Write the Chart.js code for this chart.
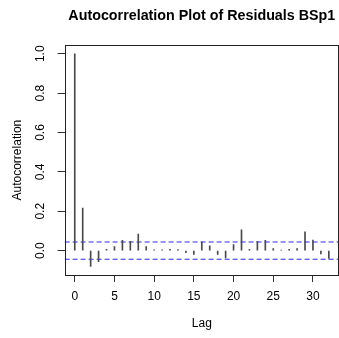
<!DOCTYPE html>
<html>
<head>
<meta charset="utf-8">
<script src="https://cdn.jsdelivr.net/npm/chart.js@4"></script>
<style>
  html, body { margin: 0; padding: 0; background: #ffffff; }
  #wrap { width: 339px; height: 338px; }
</style>
</head>
<body>
<div id="wrap"><canvas id="acfChart" width="339" height="338"></canvas></div>
<script>
// ACF values
const lags = [0, 1, 2, 3, 4, 5, 6, 7, 8, 9, 10, 11, 12, 13, 14, 15, 16,
              17, 18, 19, 20, 21, 22, 23, 24, 25, 26, 27, 28, 29, 30, 31, 32];
const acfValues = [1.0, 0.216, -0.081, -0.056, 0.006, 0.02, 0.052, 0.047, 0.084, 0.02, 0.004,
                   0.004, 0.007, 0.005, -0.01, -0.02, 0.044, 0.024, -0.02, -0.037, 0.03,
                   0.105, 0.007, 0.047, 0.052, 0.01, 0.003, 0.006, 0.01, 0.095, 0.054,
                   -0.017, -0.04];
const ciBound = 0.044;
const xTickValues = [0, 5, 10, 15, 20, 25, 30];
const yTickValues = [0, 0.2, 0.4, 0.6, 0.8, 1.0];
const xRange = [-1.28, 33.28];
const yRange = [-0.124, 1.043];

const FONT = 'Liberation Sans, Arial, Helvetica, sans-serif';

// the box around the plot region, like R's bty="o"
const boxPlugin = {
    id: 'plotBox',
    afterDatasetsDraw(chart) {
        const a = chart.chartArea;
        const ctx = chart.ctx;
        ctx.save();
        ctx.strokeStyle = '#222';
        ctx.lineWidth = 1;
        ctx.strokeRect(Math.round(a.left) + 0.5, Math.round(a.top) + 0.5,
            Math.round(a.right - a.left) - 1, Math.round(a.bottom - a.top));
        ctx.restore();
    }
};

const ciData = (v) => [{ x: xRange[0], y: v }, { x: xRange[1], y: v }];

new Chart(document.getElementById('acfChart').getContext('2d'), {
    type: 'bar',
    data: {
        datasets: [
            {
                type: 'bar',
                data: lags.map((l, i) => ({ x: l, y: acfValues[i] })),
                backgroundColor: '#4a4a4a',
                borderWidth: 0,
                barThickness: 1,
                grouped: false
            },
            {
                type: 'line',
                data: ciData(ciBound),
                borderColor: '#2a2aff',
                borderWidth: 1.1,
                borderDash: [5, 3],
                pointRadius: 0,
                fill: false
            },
            {
                type: 'line',
                data: ciData(-ciBound),
                borderColor: '#2a2aff',
                borderWidth: 1.1,
                borderDash: [5, 3],
                pointRadius: 0,
                fill: false
            }
        ]
    },
    options: {
        responsive: false,
        animation: false,
        layout: { padding: 0 },
        plugins: {
            legend: { display: false },
            tooltip: { enabled: false },
            title: {
                display: true,
                text: 'Autocorrelation Plot of Residuals BSp1',
                fullSize: false,
                color: '#000',
                font: { family: FONT, size: 14.3, weight: 'bold', lineHeight: 1.2 },
                padding: { top: 7, bottom: 21.1 }
            }
        },
        scales: {
            x: {
                type: 'linear',
                offset: false,
                min: xRange[0],
                max: xRange[1],
                afterBuildTicks: (s) => { s.ticks = xTickValues.map(v => ({ value: v })); },
                afterFit: (s) => { s.height = 63; s.paddingLeft = 0; s.paddingRight = 0; },
                border: { display: false },
                grid: { offset: false, drawOnChartArea: false, drawTicks: true, tickLength: 7, tickColor: '#333' },
                ticks: {
                    color: '#000',
                    padding: 7,
                    maxRotation: 0,
                    font: { family: FONT, size: 12 }
                },
                title: {
                    display: true,
                    text: 'Lag',
                    color: '#000',
                    font: { family: FONT, size: 12 },
                    padding: { top: 0, bottom: 7 }
                }
            },
            y: {
                type: 'linear',
                min: yRange[0],
                max: yRange[1],
                afterBuildTicks: (s) => { s.ticks = yTickValues.map(v => ({ value: v })); },
                afterFit: (s) => { s.width = 64.6; s.paddingTop = 0; s.paddingBottom = 0; },
                border: { display: false },
                grid: { drawOnChartArea: false, drawTicks: true, tickLength: 7, tickColor: '#333' },
                ticks: {
                    color: '#000',
                    padding: 9,
                    minRotation: 90,
                    maxRotation: 90,
                    crossAlign: 'center',
                    font: { family: FONT, size: 12 },
                    callback: (v) => v.toFixed(1)
                },
                title: {
                    display: true,
                    text: 'Autocorrelation',
                    color: '#000',
                    font: { family: FONT, size: 12 },
                    padding: { top: 10, bottom: 0 }
                }
            }
        }
    },
    plugins: [boxPlugin]
});
</script>
</body>
</html>
